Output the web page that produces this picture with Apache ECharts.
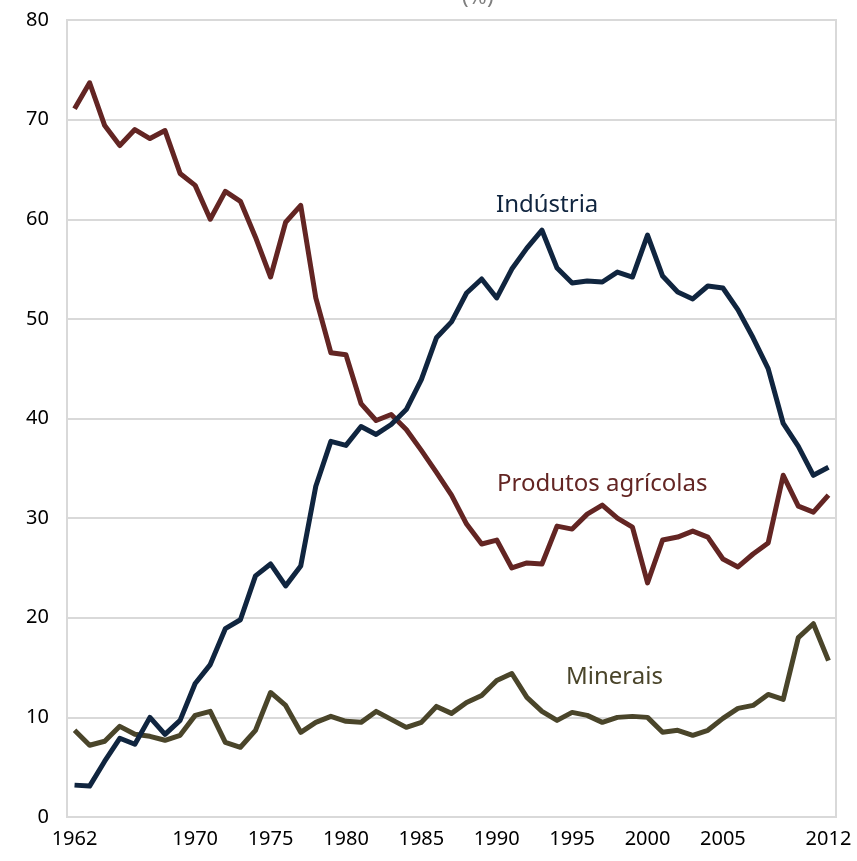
<!DOCTYPE html>
<html>
<head>
<meta charset="utf-8">
<script src="https://cdn.jsdelivr.net/npm/echarts@6/dist/echarts.min.js"></script>
<style>
  html, body { margin: 0; padding: 0; background: #fff; }
  #chart { width: 857px; height: 861px; }
</style>
</head>
<body>
<div id="chart"></div>
<script>
const years = [
  '1962','1963','1964','1965','1966','1967','1968','1969','1970','1971',
  '1972','1973','1974','1975','1976','1977','1978','1979','1980','1981',
  '1982','1983','1984','1985','1986','1987','1988','1989','1990','1991',
  '1992','1993','1994','1995','1996','1997','1998','1999','2000','2001',
  '2002','2003','2004','2005','2006','2007','2008','2009','2010','2011','2012'
];
const tickYears = ['1962','1970','1975','1980','1985','1990','1995','2000','2005','2012'];

const industria = [
  3.2, 3.1, 5.6, 7.9, 7.3, 10.0, 8.3, 9.7, 13.4, 15.3,
  18.9, 19.8, 24.2, 25.4, 23.2, 25.2, 33.2, 37.7, 37.3, 39.2,
  38.4, 39.4, 40.9, 43.9, 48.1, 49.7, 52.6, 54.0, 52.1, 55.0,
  57.1, 58.9, 55.1, 53.6, 53.8, 53.7, 54.7, 54.2, 58.4, 54.3,
  52.7, 52.0, 53.3, 53.1, 50.9, 48.1, 45.0, 39.5, 37.2, 34.3, 35.1
];
const agricolas = [
  71.1, 73.7, 69.4, 67.4, 69.0, 68.1, 68.9, 64.6, 63.4, 60.0,
  62.8, 61.8, 58.2, 54.2, 59.7, 61.4, 52.1, 46.6, 46.4, 41.5,
  39.8, 40.4, 38.9, 36.8, 34.6, 32.3, 29.4, 27.4, 27.8, 25.0,
  25.5, 25.4, 29.2, 28.9, 30.4, 31.3, 30.0, 29.1, 23.5, 27.8,
  28.1, 28.7, 28.1, 25.9, 25.1, 26.4, 27.5, 34.3, 31.2, 30.6, 32.3
];
const minerais = [
  8.7, 7.2, 7.6, 9.1, 8.3, 8.1, 7.7, 8.2, 10.2, 10.6,
  7.5, 7.0, 8.7, 12.5, 11.2, 8.5, 9.5, 10.1, 9.6, 9.5,
  10.6, 9.8, 9.0, 9.5, 11.1, 10.4, 11.5, 12.2, 13.7, 14.4,
  12.0, 10.6, 9.7, 10.5, 10.2, 9.5, 10.0, 10.1, 10.0, 8.5,
  8.7, 8.2, 8.7, 9.9, 10.9, 11.2, 12.3, 11.8, 18.0, 19.4, 15.7
];

const font = 'Noto Sans';
const chart = echarts.init(document.getElementById('chart'));

function line(name, data, color) {
  return {
    name: name,
    type: 'line',
    data: data,
    symbol: 'none',
    animation: false,
    lineStyle: { color: color, width: 5, join: 'round' },
    itemStyle: { color: color }
  };
}

const options = {
  backgroundColor: '#fff',
  grid: {
    left: 67, right: 21, top: 20, bottom: 44,
    show: true, borderColor: '#d9d9d9', borderWidth: 2
  },
  xAxis: {
    type: 'category',
    data: years,
    boundaryGap: true,
    axisLine: { lineStyle: { color: '#d9d9d9', width: 2 } },
    axisTick: { show: false },
    axisLabel: {
      interval: (idx, val) => tickYears.includes(val),
      color: '#000', fontFamily: font, fontSize: 20, margin: 12,
      showMinLabel: true, showMaxLabel: true
    }
  },
  yAxis: {
    type: 'value',
    min: 0, max: 80, interval: 10,
    axisLine: { show: true, lineStyle: { color: '#d9d9d9', width: 2 } },
    axisTick: { show: false },
    splitLine: { lineStyle: { color: '#d9d9d9', width: 2 } },
    axisLabel: { color: '#000', fontFamily: font, fontSize: 20, margin: 18 }
  },
  graphic: [
    { type: 'text', left: 462, top: -13, style: { text: '(%)', fill: '#7f7f7f', font: '22px ' + font } },
    { type: 'text', left: 496, top: 193, style: { text: 'Indústria', fill: '#10253f', font: '24px ' + font } },
    { type: 'text', left: 497, top: 472, style: { text: 'Produtos agrícolas', fill: '#632523', font: '24px ' + font } },
    { type: 'text', left: 566, top: 665, style: { text: 'Minerais', fill: '#4a452a', font: '24px ' + font } }
  ],
  series: [
    line('Minerais', minerais, '#4a452a'),
    line('Produtos agrícolas', agricolas, '#632523'),
    line('Indústria', industria, '#10253f')
  ]
};
chart.setOption(options);
</script>
</body>
</html>
